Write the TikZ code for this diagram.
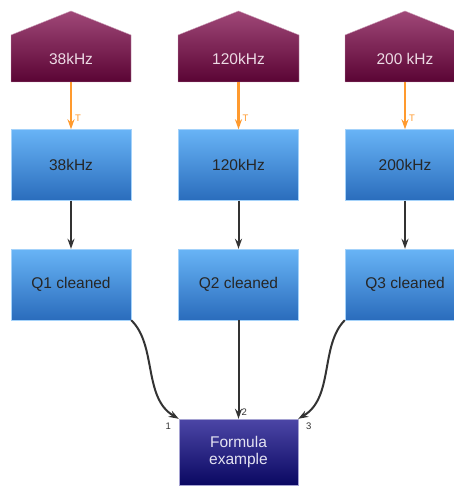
\documentclass[tikz,border=0pt]{standalone}
\usepackage{fontspec}
\setmainfont{Liberation Sans}
\usetikzlibrary{arrows.meta}
\definecolor{housetop}{HTML}{A04878}
\definecolor{housebot}{HTML}{5A0434}
\definecolor{bluetop}{HTML}{68B4F6}
\definecolor{bluebot}{HTML}{2A6CBC}
\definecolor{formtop}{HTML}{4C46A6}
\definecolor{formbot}{HTML}{0A0862}
\definecolor{arrorange}{HTML}{FF9A2E}
\definecolor{arrdark}{HTML}{333333}
\begin{document}
\begin{tikzpicture}[x=1pt,y=-1pt,
  txt/.style={font=\fontsize{15.5}{18}\selectfont},
  housetext/.style={txt, text=white!80!housetop, minimum width=120pt, minimum height=47pt, inner sep=0pt},
  bluebox/.style={txt, text=black!85, top color=bluetop, bottom color=bluebot, draw=bluetop!60!white, line width=0.4pt, minimum width=120pt, minimum height=71pt, inner sep=0pt},
  formbox/.style={txt, text=white!85!formtop, top color=formtop, bottom color=formbot, draw=formtop!50!white, line width=0.4pt, minimum width=119pt, minimum height=66pt, inner sep=0pt, align=center},
  orangearrow/.style={draw=arrorange, line width=2.2pt, -{Stealth[length=10pt,width=7pt]}},
  darkarrow/.style={draw=arrdark, line width=2pt, -{Stealth[length=10pt,width=7pt]}},
  smalllab/.style={font=\fontsize{9.5}{10}\selectfont, inner sep=1pt},
  housefill/.style={top color=housetop, bottom color=housebot, draw=housetop!50!white, line width=0.4pt}
]
\useasboundingbox[fill=white] (0,0) rectangle (453,486);
% houses
\shade[housefill] (11,82) -- (11,35) -- (71,11) -- (131,35) -- (131,82) -- cycle;
\shade[housefill] (178,82) -- (178,35) -- (238.5,11) -- (299,35) -- (299,82) -- cycle;
\shade[housefill] (345,82) -- (345,35) -- (405,11) -- (465,35) -- (465,82) -- cycle;
\node[housetext] (h1) at (71,58.5) {38kHz};
\node[housetext] (h2) at (238.5,58.5) {120kHz};
\node[housetext] (h3) at (405,58.5) {200 kHz};
% blue boxes
\node[bluebox] (b1) at (71,165) {38kHz};
\node[bluebox] (b2) at (238.5,165) {120kHz};
\node[bluebox] (b3) at (405,165) {200kHz};
\node[bluebox] (q1) at (71,284.5) {Q1 cleaned};
\node[bluebox] (q2) at (238.5,284.5) {Q2 cleaned};
\node[bluebox] (q3) at (405,284.5) {Q3 cleaned};
% formula
\node[formbox] (f) at (238.5,452) {Formula\\[-1pt]example};
% orange arrows
\foreach \i in {1,2,3}{
  \draw[orangearrow] (h\i.south) -- (b\i.north)
    node[pos=1, anchor=south west, smalllab, text=arrorange, xshift=2pt, yshift=6pt] {T};
  \draw[darkarrow] (b\i.south) -- (q\i.north);
}
% to formula
\draw[darkarrow] (q1.south east) .. controls (157,345) and (143,398) .. (f.north west)
  node[pos=1, anchor=north east, smalllab, text=arrdark, xshift=-6pt, yshift=-2pt] {1};
\draw[darkarrow] (q2.south) -- (f.north)
  node[pos=1, anchor=south west, smalllab, text=arrdark, xshift=1pt, yshift=1pt] {2};
\draw[darkarrow] (q3.south west) .. controls (320,345) and (334,398) .. (f.north east)
  node[pos=1, anchor=north west, smalllab, text=arrdark, xshift=6pt, yshift=-2pt] {3};
\end{tikzpicture}
\end{document}
